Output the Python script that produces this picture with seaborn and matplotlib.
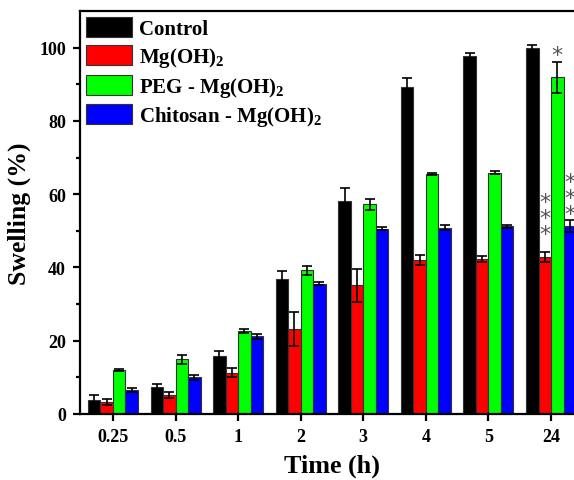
import numpy as np
import pandas as pd
import matplotlib
matplotlib.use("Agg")
import matplotlib.pyplot as plt
import seaborn as sns

# ===== Данные =====
times = ["0.25", "0.5", "1", "2", "3", "4", "5", "24"]
groups = ["Control", "Mg(OH)$_2$", "PEG - Mg(OH)$_2$", "Chitosan - Mg(OH)$_2$"]
colors = ["#000000", "#FF0000", "#00FF00", "#0000FF"]

control = [3.8, 7.3, 15.8, 36.8, 58.1, 89.3, 97.6, 99.8]
mg = [3.2, 5.2, 11.3, 23.2, 35.1, 42.0, 42.4, 42.8]
peg = [12.1, 14.9, 22.7, 39.2, 57.3, 65.5, 65.9, 91.9]
chitosan = [6.5, 10.0, 21.2, 35.6, 50.6, 50.8, 51.2, 51.3]

control_err = [1.4, 1.0, 1.4, 2.3, 3.6, 2.4, 0.8, 0.9]
mg_err = [0.8, 0.8, 1.2, 4.6, 4.4, 1.3, 0.8, 1.3]
peg_err = [0.3, 1.2, 0.5, 1.3, 1.5, 0.4, 0.5, 4.2]
chitosan_err = [0.5, 0.6, 0.6, 0.5, 0.5, 0.7, 0.4, 1.6]

values = [control, mg, peg, chitosan]
errors = [control_err, mg_err, peg_err, chitosan_err]

# звёздочки значимости: (группа, время, текст)
stars = [(2, "24", "*"), (1, "24", "*\n*\n*"), (3, "24", "*\n*\n*")]

data = pd.DataFrame({
    "time": times * len(groups),
    "group": np.repeat(groups, len(times)),
    "swelling": np.concatenate(values),
})

# ===== Стиль =====
sns.set_style("ticks")
plt.rcParams["font.family"] = ["Liberation Serif", "DejaVu Serif"]
plt.rcParams["font.weight"] = "bold"
plt.rcParams["mathtext.fontset"] = "custom"
plt.rcParams["mathtext.rm"] = "Liberation Serif:bold"
plt.rcParams["mathtext.it"] = "Liberation Serif:bold"
plt.rcParams["mathtext.bf"] = "Liberation Serif:bold"
plt.rcParams["mathtext.default"] = "bf"
for key in ["text.color", "axes.labelcolor", "xtick.color", "ytick.color",
            "axes.edgecolor"]:
    plt.rcParams[key] = "black"

fig = plt.figure(figsize=(5.74, 4.81), dpi=100)
ax = fig.add_axes([80 / 574, 66 / 481, 504 / 574, 403 / 481])

sns.barplot(
    data=data, x="time", y="swelling", hue="group",
    order=times, hue_order=groups, palette=colors,
    saturation=1, errorbar=None, width=0.8,
    edgecolor="#333333", linewidth=0.8, legend=False, ax=ax,
)
bars = list(ax.containers)

# Ошибки
for container, err in zip(bars, errors):
    xs = [p.get_x() + p.get_width() / 2 for p in container.patches]
    hs = [p.get_height() for p in container.patches]
    ax.errorbar(xs, hs, yerr=err, fmt="none", ecolor="black",
                elinewidth=1.2, capsize=3.4, capthick=1.2, zorder=5)

# Звёздочки
star_gap = {1: 2.4, 2: -0.8, 3: -1.0}
for gi, t, s in stars:
    p = bars[gi].patches[times.index(t)]
    x = p.get_x() + p.get_width() / 2
    top = p.get_height() + errors[gi][times.index(t)]
    ax.text(x, top + star_gap[gi], s, ha="center", va="bottom",
            fontsize=16, color="#555555", family="DejaVu Sans",
            fontweight="normal", linespacing=0.75)

ax.set_xlim(-0.527, 7.527)
ax.set_ylim(0, 110)
ax.set_yticks([0, 20, 40, 60, 80, 100])
ax.set_yticks([10, 30, 50, 70, 90], minor=True)

for s in ["left", "bottom", "top"]:
    ax.spines[s].set_linewidth(1.6)
ax.spines["right"].set_visible(False)

ax.tick_params(axis="both", which="major", width=1.6, length=5,
               labelsize=13, pad=5)
ax.tick_params(axis="y", which="minor", width=1.6, length=3)

ax.set_xlabel("Time (h)", fontsize=18.8, fontweight="bold", labelpad=6)
ax.set_ylabel("Swelling (%)", fontsize=18.5, fontweight="bold", labelpad=6)

handles = [c.patches[0] for c in bars]
ax.legend(handles, groups, loc="upper left", frameon=False,
          fontsize=15, handlelength=2.2, handleheight=1.1,
          handletextpad=0.35, labelspacing=0.27, borderaxespad=0.25,
          borderpad=0.05)

fig.savefig("out.png", dpi=100)
